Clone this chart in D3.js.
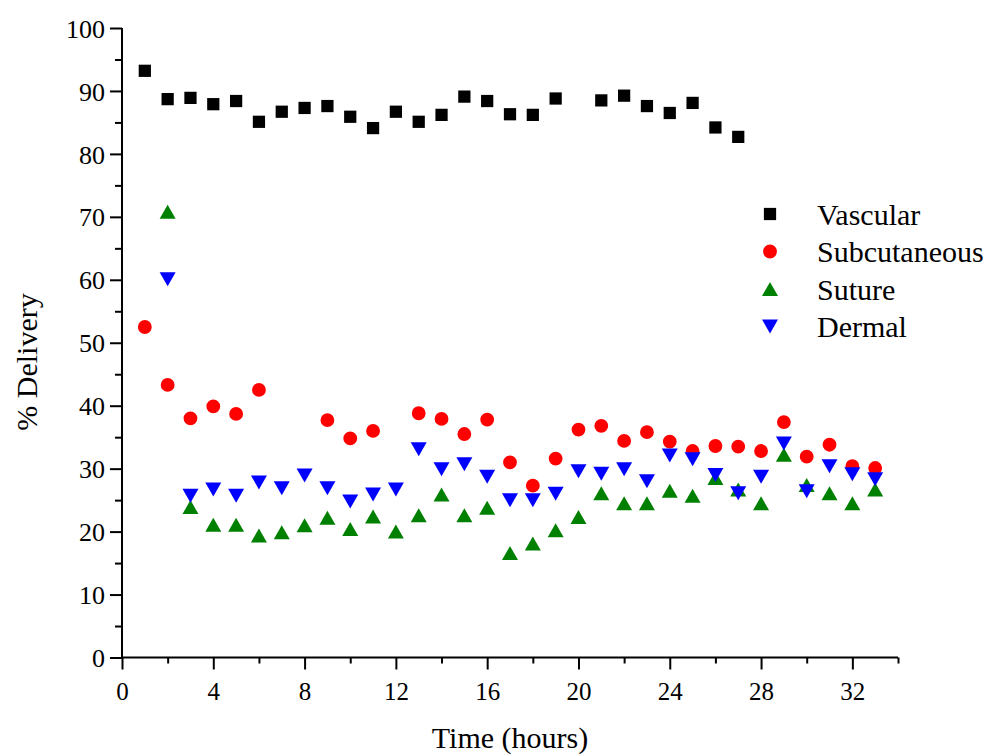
<!DOCTYPE html>
<html>
<head>
<meta charset="utf-8">
<script src="https://cdn.jsdelivr.net/npm/d3@7"></script>
<style>
  html, body { margin: 0; padding: 0; background: #fff; }
  svg text { font-family: "Liberation Serif", "Times New Roman", serif; fill: #000; }
</style>
</head>
<body>
<svg id="chart" width="990" height="756"></svg>
<script>
// Sampling times (hours)
const hours = d3.range(1, 34);

// % delivery per route (null = no measurement)
const vascular = [93.2, 88.7, 88.9, 87.9, 88.4, 85.1, 86.7, 87.3, 87.6, 85.9, 84.1, 86.7, 85.1, 86.2, 89.1, 88.4,
  86.3, 86.2, 88.8, null, 88.5, 89.25, 87.6, 86.5, 88.1, 84.2, 82.7, null, null, null, null, null, null];
const subcutaneous = [52.5, 43.3, 38.0, 39.9, 38.7, 42.5, null, null, 37.7, 34.8, 36.0, null, 38.8, 37.9, 35.5, 37.8,
  31.0, 27.3, 31.6, 36.2, 36.8, 34.4, 35.8, 34.3, 32.8, 33.6, 33.5, 32.8, 37.4, 31.9, 33.8, 30.4, 30.1];
const suture = [null, 70.8, 23.9, 21.1, 21.1, 19.4, 19.9, 21.0, 22.2, 20.4, 22.4, 20.0, 22.6, 25.9, 22.6, 23.8,
  16.6, 18.1, 20.2, 22.3, 26.1, 24.5, 24.5, 26.5, 25.7, 28.5, 26.7, 24.5, 32.2, 27.4, 26.1, 24.5, 26.7];
const dermal = [null, 60.1, 25.7, 26.7, 25.7, 27.8, 26.9, 28.9, 26.9, 24.8, 25.9, 26.7, 33.1, 29.9, 30.7, 28.7,
  25.0, 25.0, 26.0, 29.6, 29.2, 29.9, 28.0, 32.1, 31.5, 29.0, 26.1, 28.7, 34.0, 26.4, 30.4, 29.1, 28.3];

const seriesNames = ["Vascular", "Subcutaneous", "Suture", "Dermal"];
const seriesColors = ["#000000", "#ff0000", "#008000", "#0000ff"];
const xTicks = [0, 4, 8, 12, 16, 20, 24, 28, 32];
const yTicks = [0, 10, 20, 30, 40, 50, 60, 70, 80, 90, 100];

const seriesValues = [vascular, subcutaneous, suture, dermal];

const svg = d3.select("#chart");
const x = d3.scaleLinear().domain([0, 34]).range([122, 898]);
const y = d3.scaleLinear().domain([0, 100]).range([657.5, 28]);

// Marker shapes per series
const shapes = [
  d3.symbol().type(d3.symbolSquare).size(150),
  d3.symbol().type(d3.symbolCircle).size(150),
  null, null
];
function triangle(up) {
  const w = 16, h = 14;
  return up
    ? `M0,${-h / 2}L${w / 2},${h / 2}L${-w / 2},${h / 2}Z`
    : `M0,${h / 2}L${w / 2},${-h / 2}L${-w / 2},${-h / 2}Z`;
}
function markerPath(i) {
  if (i === 2) return triangle(true);
  if (i === 3) return triangle(false);
  return shapes[i]();
}

// Axes
const xAxis = svg.append("g").attr("transform", `translate(0,${y(0)})`)
  .call(d3.axisBottom(x).tickValues(d3.range(0, 35, 2)).tickSize(12).tickFormat(""));
xAxis.selectAll(".tick line").attr("stroke-width", 2)
  .attr("y2", d => (d % 4 === 0 ? 12 : 6));
xAxis.select(".domain").attr("stroke-width", 2).attr("d", `M${x(0)},0H${x(34)}`);
xAxis.selectAll(".tick").filter(d => xTicks.includes(d)).append("text")
  .attr("y", 42).attr("text-anchor", "middle").attr("font-size", 25).text(d => d);

const yAxis = svg.append("g").attr("transform", `translate(${x(0)},0)`)
  .call(d3.axisLeft(y).tickValues(d3.range(0, 101, 5)).tickSize(12).tickFormat(""));
yAxis.selectAll(".tick line").attr("stroke-width", 2)
  .attr("x2", d => (d % 10 === 0 ? -12 : -7));
yAxis.select(".domain").attr("stroke-width", 2).attr("d", `M0,${y(0)}V${y(100)}`);
yAxis.selectAll(".tick").filter(d => yTicks.includes(d)).append("text")
  .attr("x", -17).attr("dy", "0.35em").attr("text-anchor", "end").attr("font-size", 26).text(d => d);

// Axis titles
svg.append("text").attr("x", 510).attr("y", 748).attr("text-anchor", "middle")
  .attr("font-size", 30).text("Time (hours)");
svg.append("text").attr("transform", `translate(37,362) rotate(-90)`).attr("text-anchor", "middle")
  .attr("font-size", 30).text("% Delivery");

// Points, drawn in series order so later series sit on top
seriesValues.forEach((vals, i) => {
  const pts = hours.map((h, k) => ({ h, v: vals[k] })).filter(d => d.v != null);
  svg.append("g").selectAll("path").data(pts).join("path")
    .attr("transform", d => `translate(${x(d.h)},${y(d.v)})`)
    .attr("d", markerPath(i))
    .attr("fill", seriesColors[i]);
});

// Legend
const legend = svg.append("g");
seriesNames.forEach((name, i) => {
  const yy = 214 + i * 37.5;
  legend.append("path").attr("transform", `translate(770,${yy})`)
    .attr("d", markerPath(i)).attr("fill", seriesColors[i]);
  legend.append("text").attr("x", 817).attr("y", yy).attr("dy", "0.35em")
    .attr("font-size", 30).text(name);
});
</script>
</body>
</html>
